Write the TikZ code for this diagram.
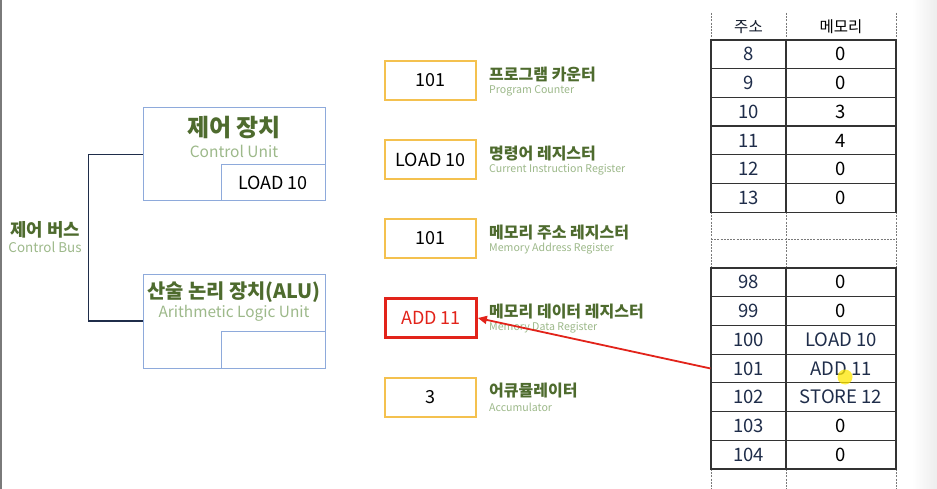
\documentclass[tikz,border=0pt]{standalone}
\usepackage{fontspec}
\setmainfont{Noto Sans CJK KR}
\usetikzlibrary{arrows.meta}
\definecolor{dgreen}{HTML}{4E6B2E}
\definecolor{lgreen}{HTML}{9DB98A}
\definecolor{bluebd}{HTML}{8EAADB}
\definecolor{goldbd}{HTML}{F4C14F}
\definecolor{redbd}{HTML}{E2231A}
\definecolor{navy}{HTML}{1F2D4A}
\definecolor{gridc}{HTML}{333333}
\definecolor{dashc}{HTML}{7A7A7A}
\tikzset{
  unitbox/.style={draw=bluebd, line width=1pt, minimum width=182pt, inner sep=0pt},
  subbox/.style={draw=bluebd, line width=1pt, minimum width=104pt, minimum height=36pt, inner sep=0pt, font=\fontsize{18}{18}\selectfont},
  regbox/.style={draw=goldbd, line width=1.2pt, minimum width=91pt, minimum height=39pt, inner sep=0pt, font=\fontsize{18}{18}\selectfont},
  mdrbox/.style={draw=redbd, line width=2.8pt, minimum width=91pt, minimum height=39pt, inner sep=0pt, text=redbd, font=\fontsize{18}{18}\selectfont},
  kor/.style={text=dgreen, font=\bfseries\fontsize{16}{16}\selectfont, anchor=west, inner sep=0pt},
  eng/.style={text=lgreen, font=\fontsize{10.6}{10.6}\selectfont, anchor=west, inner sep=0pt},
  acell/.style={draw=gridc, line width=1.2pt, minimum width=75pt, minimum height=28.7pt, inner sep=0pt, text=navy, font=\fontsize{18.5}{18.5}\selectfont},
  mcell/.style={draw=gridc, line width=1.2pt, minimum width=110pt, minimum height=28.7pt, inner sep=0pt, font=\fontsize{18.5}{18.5}\selectfont},
  dashl/.style={draw=dashc, line width=1pt, dash pattern=on 2pt off 1.2pt},
  busline/.style={draw=navy, line width=1.8pt},
  fetch/.style={draw=redbd, line width=1.8pt, -{Triangle[length=9pt,width=8pt]}}
}
\begin{document}
\begin{tikzpicture}[x=1pt,y=-1pt]
\useasboundingbox (0,0) rectangle (937,489);
\fill[white] (0,0) rectangle (937,489);
\shade[left color=white, right color=black!7] (912,0) rectangle (937,489);
\fill[dashc] (0,0) rectangle (2,489);

% Control unit
\node[unitbox, minimum height=93pt] (cu) at (234,154.5) {};
\node[subbox] (cureg) at (273,183) {LOAD 10};
\node[text=dgreen, font=\bfseries\fontsize{24}{24}\selectfont, inner sep=0pt] (cut) at (234,128) {제어 장치};
\node[text=lgreen, font=\fontsize{15.5}{15.5}\selectfont, inner sep=0pt] (cue) at (234,151) {Control Unit};

% ALU
\node[unitbox, minimum height=94pt] (alu) at (234,321) {};
\node[subbox, minimum height=37pt] (alureg) at (273,349.5) {};
\node[text=dgreen, font=\bfseries\fontsize{19.8}{19.8}\selectfont, inner sep=0pt] (alut) at (234,292) {산술 논리 장치(ALU)};
\node[text=lgreen, font=\fontsize{15.4}{15.4}\selectfont, inner sep=0pt] (alue) at (234,313) {Arithmetic Logic Unit};

% Control bus
\draw[busline] (cu.west) -- ++(-54,0) |- (alu.west);
\node[text=dgreen, font=\bfseries\fontsize{17.8}{17.8}\selectfont, inner sep=0pt] (cbk) at (45,230) {제어 버스};
\node[text=lgreen, font=\fontsize{13.4}{13.4}\selectfont, inner sep=0pt] (cbe) at (45,247) {Control Bus};

% Registers
\node[regbox] (pc) at (430.5,80.5) {101};
\node[kor] (pck) at (489,75) {프로그램 카운터};
\node[eng] (pce) at (489,91) {Program Counter};

\node[regbox] (ir) at (430.5,159.5) {LOAD 10};
\node[kor] (irk) at (489,154) {명령어 레지스터};
\node[eng] (ire) at (489,170) {Current Instruction Register};

\node[regbox] (mar) at (430.5,238.5) {101};
\node[kor] (mark) at (489,233) {메모리 주소 레지스터};
\node[eng] (mare) at (489,249) {Memory Address Register};

\node[mdrbox] (mdr) at (431,318) {ADD 11};
\node[kor] (mdrk) at (489,312) {메모리 데이터 레지스터};
\node[eng] (mdre) at (489,328) {Memory Data Register};

\node[regbox] (acc) at (430.5,397.5) {3};
\node[kor] (acck) at (489,391) {어큐뮬레이터};
\node[eng] (acce) at (489,407) {Accumulator};

% Memory table header
\node[text=navy!60!black, font=\fontsize{15.5}{15.5}\selectfont, inner sep=0pt] (h1) at (748.5,27) {주소};
\node[font=\fontsize{15.5}{15.5}\selectfont, inner sep=0pt] (h2) at (841,27) {메모리};
\foreach \x in {711,786,896} {
  \draw[dashl] (\x,13) -- (\x,40);
  \draw[dashl] (\x,212) -- (\x,268);
  \draw[dashl] (\x,469) -- (\x,489);
}
\draw[dashl] (711,240) -- (896,240);

% Top block
\foreach \a/\m [count=\i from 0] in {8/0,9/0,10/3,11/4,12/0,13/0} {
  \node[acell] (a\a) at (748.5,{40+14.35+28.7*\i}) {\a};
  \node[mcell] (m\a) at (841,{40+14.35+28.7*\i}) {\m};
}
% Bottom block
\foreach \a/\m [count=\i from 0] in {98/0,99/0,103/0,104/0} {
  \pgfmathsetmacro{\row}{\i<2 ? \i : \i+3}
  \node[acell] (a\a) at (748.5,{268+14.35+28.7*\row}) {\a};
  \node[mcell] (m\a) at (841,{268+14.35+28.7*\row}) {\m};
}
\foreach \a/\m [count=\i from 2] in {100/LOAD 10,101/ADD 11,102/STORE 12} {
  \node[acell] (a\a) at (748.5,{268+14.35+28.7*\i}) {\a};
  \node[mcell, text=navy] (m\a) at (841,{268+14.35+28.7*\i}) {\m};
}

% cursor highlight
\fill[yellow!90!orange, opacity=0.75] (845,377) circle (7.5);

% fetch arrow
\draw[fetch] (a101.west) -- (mdr.east);
\end{tikzpicture}
\end{document}
